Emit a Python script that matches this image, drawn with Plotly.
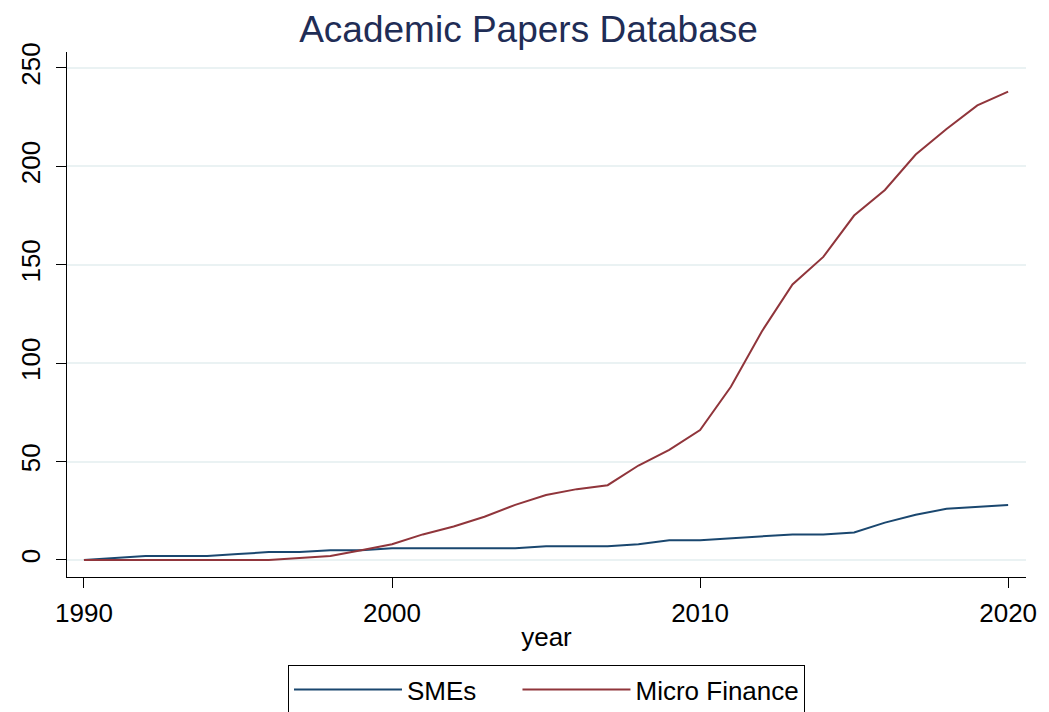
"""Academic Papers Database: SMEs vs Micro Finance papers per year."""

import plotly.graph_objects as go

years = list(range(1990, 2021))

smes = [0, 1, 2, 2, 2, 3, 4, 4, 5, 5,
        6, 6, 6, 6, 6, 7, 7, 7, 8, 10,
        10, 11, 12, 13, 13, 14, 19, 23, 26, 27, 28]

micro_finance = [0, 0, 0, 0, 0, 0, 0, 1, 2, 5,
                 8, 13, 17, 22, 28, 33, 36, 38, 48, 56,
                 66, 88, 116, 140, 154, 175, 188, 206, 219, 231, 238]

x_ticks = [1990, 2000, 2010, 2020]
y_ticks = [0, 50, 100, 150, 200, 250]

NAVY = "#1a476f"
MAROON = "#90353b"

fig = go.Figure()

# non-breaking spaces widen the gap between the two legend entries
fig.add_trace(go.Scatter(
    x=years, y=smes, mode="lines", name="SMEs" + "\u00a0" * 5,
    line=dict(color=NAVY, width=2),
))
fig.add_trace(go.Scatter(
    x=years, y=micro_finance, mode="lines", name="Micro Finance",
    line=dict(color=MAROON, width=2),
))

# page body adds an 8px margin, so the figure is 8px smaller than the window
fig.update_layout(
    width=1041,
    height=704,
    margin=dict(l=59, r=23, t=44, b=135, autoexpand=False),
    paper_bgcolor="white",
    plot_bgcolor="white",
    font=dict(family="Liberation Sans, Arial, sans-serif", size=26, color="black"),
    title=dict(
        text="Academic Papers Database",
        x=0.5, xanchor="center",
        y=0.970, yanchor="middle",
        font=dict(size=37, color="#1f2d56"),
    ),
    xaxis=dict(
        range=[1989.45, 2020.58],
        tickvals=x_ticks,
        ticks="outside", ticklen=10, tickwidth=1.2, tickcolor="black",
        ticklabelstandoff=3,
        showline=True, linecolor="black", linewidth=1.2,
        showgrid=False, zeroline=False,
        automargin=False,
        title=dict(text="year", standoff=0, font=dict(size=26)),
        tickfont=dict(size=26),
    ),
    yaxis=dict(
        range=[-8.64, 258.1],
        tickvals=y_ticks,
        tickangle=-90,
        ticks="outside", ticklen=10, tickwidth=1.2, tickcolor="black",
        ticklabelstandoff=6,
        showline=True, linecolor="black", linewidth=1.2,
        showgrid=True, gridcolor="#eaf2f3", gridwidth=2,
        zeroline=False,
        automargin=False,
        tickfont=dict(size=26),
    ),
    legend=dict(
        orientation="h",
        x=0.5, xanchor="center",
        y=-0.1676, yanchor="top",
        bordercolor="black", borderwidth=1,
        font=dict(size=26),
        itemwidth=108,
    ),
)

fig.write_html("out.html")
